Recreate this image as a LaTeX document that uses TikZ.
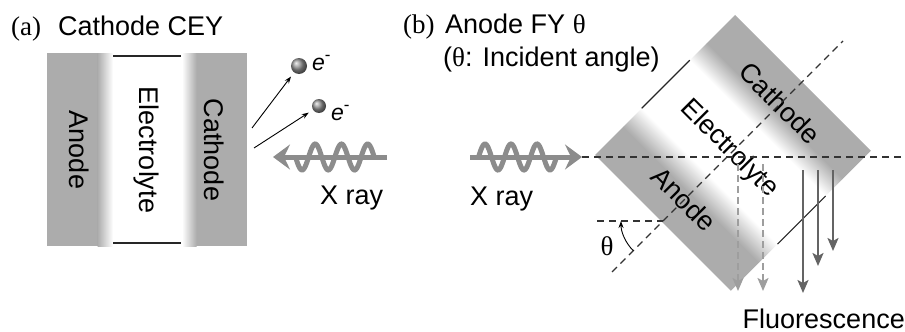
\documentclass[tikz,border=0pt]{standalone}
\usepackage{fontspec}
\setmainfont{Liberation Sans}
\newfontfamily\seriffam{Liberation Serif}
\usetikzlibrary{arrows.meta}
\definecolor{layergray}{RGB}{172,172,172}
\definecolor{raygray}{RGB}{140,140,140}
\definecolor{fluodark}{RGB}{100,100,100}
\definecolor{fluolight}{RGB}{158,158,158}
\begin{document}
\begin{tikzpicture}[x=1pt,y=-1pt,
  lbl/.style={inner sep=0pt, font=\fontsize{27}{30}\selectfont},
  elabel/.style={inner sep=0pt, anchor=west, font=\fontsize{23}{26}\selectfont},
  electron/.style={circle, inner sep=0pt, shading=ball, ball color=gray!85},
  elarrow/.style={line width=0.9pt, -{Stealth[length=7pt,width=5pt]}, shorten >=5pt},
  raybeam/.style={draw=raygray, line width=5pt, -{Stealth[length=17pt,width=25pt,inset=6pt]}},
  raywave/.style={draw=raygray, line width=5pt},
  guide/.style={draw=black!80, line width=1.1pt, dash pattern=on 7pt off 5pt},
  edge/.style={draw=black!85, line width=1.1pt},
  fluo/.style={line width=2.3pt, -{Stealth[length=13pt,width=11pt,inset=3pt]}},
  fluodash/.style={fluo, dash pattern=on 7pt off 4pt}]
\useasboundingbox (0,0) rectangle (905,332);

% ---------- (a) cathode electron yield ----------
\node[lbl, anchor=base west] (tagA) at (11,35) {\seriffam (a)};
\node[lbl, anchor=base west] (titleA) at (58,35) {Cathode CEY};

% anode and cathode plates with soft edges towards the electrolyte
\fill[layergray] (47,53) rectangle (98,246);
\shade[left color=layergray, right color=white] (97.5,53) rectangle (113,246);
\fill[layergray] (196,53) rectangle (247,246);
\shade[left color=white, right color=layergray] (182,53) rectangle (196.5,246);
\draw[edge] (113,56) -- (181,56);
\draw[edge] (113,243) -- (181,243);

\node[lbl, rotate=-90] (anodeA) at (79,150) {Anode};
\node[lbl, rotate=-90] (electrolyteA) at (146,150) {Electrolyte};
\node[lbl, rotate=-90] (cathodeA) at (214,150) {Cathode};

% emitted electrons
\node[electron, minimum size=16pt] (ball1) at (299,66) {};
\node[electron, minimum size=14pt] (ball2) at (319,106) {};
\node[elabel] (e1) at (312,63) {\itshape e\raisebox{0.42em}{\upshape\fontsize{17}{18}\selectfont -}};
\node[elabel] (e2) at (331,113) {\itshape e\raisebox{0.42em}{\upshape\fontsize{17}{18}\selectfont -}};
\coordinate (emit1) at (252,128);
\coordinate (emit2) at (254,148);
\draw[elarrow] (emit1) -- (ball1);
\draw[elarrow] (emit2) -- (ball2);

% incoming X ray
\coordinate (rayAstart) at (387,157);
\coordinate (rayAend) at (273,157);
\draw[raybeam] (rayAstart) -- (rayAend);
\draw[raywave] plot[domain=295.5:374.25, samples=90, smooth] (\x,{157+13*sin(360/26.25*(\x-295.5))});
\node[lbl, anchor=base west] (xrayA) at (320,204) {X ray};

% ---------- (b) anode fluorescence yield ----------
\node[lbl, anchor=base west] (tagB) at (403,34) {\seriffam (b)};
\node[lbl, anchor=base west] (titleB) at (445,34) {Anode FY {\seriffam θ}};
\node[lbl, anchor=base west] (noteB) at (443,66) {({\seriffam θ}: Incident angle)};

% tilted cell: u runs across the layers, v along them
\begin{scope}[transform canvas={shift={(595,155)}, rotate=45}]
  \fill[layergray] (0,0) rectangle (40,192);
  \shade[left color=layergray, right color=white] (39.5,0) rectangle (66,192);
  \fill[layergray] (158,0) rectangle (198,192);
  \shade[left color=white, right color=layergray] (134,0) rectangle (158.5,192);
  \draw[edge] (66,0) -- (134,0);
  \draw[edge] (66,192) -- (134,192);
\end{scope}

\node[lbl, rotate=-45] (cathodeB) at (780,103) {Cathode};
\node[lbl, rotate=-45] (electrolyteB) at (729,149) {Electrolyte};
\node[lbl, rotate=-45] (anodeB) at (684,199) {Anode};

% incident beam, its path and the layer normal
\coordinate (rayBstart) at (470,157);
\coordinate (rayBend) at (582,157);
\coordinate (beamEnd) at (905,157);
\draw[guide] (rayBend) -- (beamEnd);
\draw[raybeam] (rayBstart) -- (rayBend);
\draw[raywave] plot[domain=478.5:556.5, samples=90, smooth] (\x,{157-13*sin(360/26*(\x-478.5))});
\node[lbl, anchor=base west] (xrayB) at (470,205) {X ray};

\coordinate (normalLow) at (612,272);
\coordinate (normalHigh) at (843,41);
\coordinate (refLeft) at (597,221);
\coordinate (refHit) at (663,221);
\draw[guide] (normalLow) -- (normalHigh);
\draw[guide] (refLeft) -- (refHit);
\draw[line width=0.9pt, -{Stealth[length=7pt,width=5pt]}] (633.3,250.7) arc[start angle=135, end angle=180, radius=42];
\node[lbl] (thetaB) at (607,246) {\seriffam θ};

% fluorescence leaving the cell
\coordinate (f1a) at (738,164); \coordinate (f1b) at (738,291);
\coordinate (f2a) at (763,164); \coordinate (f2b) at (763,291);
\coordinate (f3a) at (803,170); \coordinate (f3b) at (803,293);
\coordinate (f4a) at (818,170); \coordinate (f4b) at (818,266);
\coordinate (f5a) at (833,170); \coordinate (f5b) at (833,251);
\draw[fluodash, draw=fluolight] (f1a) -- (f1b);
\draw[fluodash, draw=fluolight] (f2a) -- (f2b);
\draw[fluo, draw=fluodark] (f3a) -- (f3b);
\draw[fluo, draw=fluodark] (f4a) -- (f4b);
\draw[fluo, draw=fluodark] (f5a) -- (f5b);
\node[lbl, anchor=base east] (fluoLabel) at (905,328) {Fluorescence};
\end{tikzpicture}
\end{document}
